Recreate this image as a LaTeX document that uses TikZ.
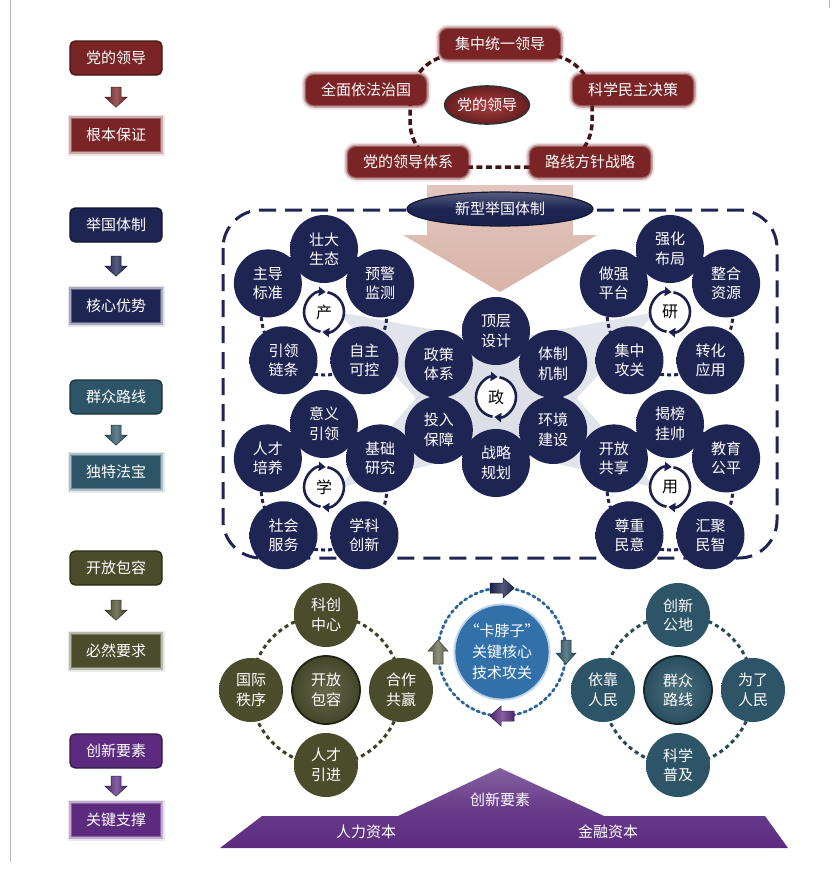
\documentclass[tikz,border=0pt]{standalone}
\usepackage{fontspec}
\setmainfont{Noto Sans CJK SC}
\usetikzlibrary{arrows.meta,shapes.geometric,calc}
\definecolor{cred}{HTML}{7A2426}
\definecolor{cnavy}{HTML}{1E2553}
\definecolor{cteal}{HTML}{2D5567}
\definecolor{colive}{HTML}{4A4C2C}
\definecolor{cpurple}{HTML}{5C2B80}
\definecolor{cblue}{HTML}{3270AA}
\definecolor{cpink}{HTML}{D6AFA3}
\definecolor{cwedge}{HTML}{DCDFE8}
\pgfdeclareradialshading{navyblur}{\pgfpoint{0bp}{0bp}}{rgb(0bp)=(0.118,0.145,0.325);rgb(37bp)=(0.118,0.145,0.325);rgb(50bp)=(1,1,1)}
\pgfdeclareradialshading{oliveblur}{\pgfpoint{0bp}{0bp}}{rgb(0bp)=(0.29,0.298,0.172);rgb(37bp)=(0.29,0.298,0.172);rgb(50bp)=(1,1,1)}
\pgfdeclareradialshading{tealblur}{\pgfpoint{0bp}{0bp}}{rgb(0bp)=(0.176,0.333,0.404);rgb(37bp)=(0.176,0.333,0.404);rgb(50bp)=(1,1,1)}
\tikzset{
  lbox/.style={rounded corners=5pt, fill=#1, draw=#1!55!black, line width=1.2pt,
    minimum width=92pt, minimum height=34pt, text=white,
    font=\fontsize{15}{16}\selectfont, inner sep=0pt},
  sbox/.style={fill=#1, preaction={draw=#1, draw opacity=0.12, line width=9pt},
    preaction={draw=#1, draw opacity=0.3, line width=5.5pt},
    preaction={draw=#1, draw opacity=0.55, line width=2.5pt},
    minimum width=88pt, minimum height=32pt, text=white,
    font=\fontsize{15}{16}\selectfont, inner sep=0pt},
  rbox/.style={sbox=cred, rounded corners=8pt, minimum width=120pt, minimum height=30pt},
  sat/.style={circle, inner sep=0pt, minimum size=68pt, shade, shading=#1, text=white,
    font=\fontsize{15}{19.5}\selectfont, align=center},
  hub/.style={circle, fill=white, minimum size=40pt, inner sep=0pt,
    font=\fontsize{16}{16}\selectfont},
  hubarr/.style={draw=cnavy!90!black, line width=2.6pt, -{Triangle[length=7pt,width=9pt]}},
  dotring/.style={draw=cnavy, line width=3pt, dash pattern=on 4pt off 3pt},
  bigc/.style={circle, minimum size=68pt, inner sep=0pt, shade, inner color=#1!85!white,
    outer color=#1!92!black, draw=#1!45!black, line width=1.8pt, text=white,
    font=\fontsize{15}{19.5}\selectfont, align=center},
  downarr/.pic={\path[pic actions] (-5,10) -- (5,10) -- (5,0) -- (11,0) -- (0,-10) -- (-11,0) -- (-5,0) -- cycle;},
  blockarr/.pic={\path[pic actions] (-12,-5) -- (1,-5) -- (1,-10) -- (12,0) -- (1,10) -- (1,5) -- (-12,5) -- cycle;},
  arrfill/.style={shade, left color=#1!90!black, right color=#1!90!black, middle color=#1!75!white, draw=#1!60!black, line width=0.5pt}
}
\newcommand\pgroup[7]{%
  \draw[dotring] (#1) circle[radius=63];
  \node[sat=navyblur] (#1a) at ([shift={(90:63)}]#1) {#3};
  \node[sat=navyblur] (#1b) at ([shift={(153:63)}]#1) {#4};
  \node[sat=navyblur] (#1c) at ([shift={(27:63)}]#1) {#5};
  \node[sat=navyblur] (#1d) at ([shift={(230:63)}]#1) {#6};
  \node[sat=navyblur] (#1e) at ([shift={(310:63)}]#1) {#7};
  \node[hub] (#1h) at (#1) {#2};
  \draw[hubarr] (#1) ++(260:20) arc[start angle=260,end angle=85,radius=20];
  \draw[hubarr] (#1) ++(80:20) arc[start angle=80,end angle=-95,radius=20];
}
\newcommand\cgroup[8]{%
  \draw[draw=#3!85!black, line width=3pt, dash pattern=on 4pt off 3.5pt] (#1) circle[radius=75];
  \node[sat=#2, minimum size=64pt] (#1a) at ([shift={(90:75)}]#1) {#5};
  \node[sat=#2, minimum size=64pt] (#1b) at ([shift={(180:75)}]#1) {#6};
  \node[sat=#2, minimum size=64pt] (#1c) at ([shift={(0:75)}]#1) {#7};
  \node[sat=#2, minimum size=64pt] (#1d) at ([shift={(270:75)}]#1) {#8};
  \node[bigc=#3] (#1h) at (#1) {#4};
}
\begin{document}
\begin{tikzpicture}[x=1pt,y=1pt]
\useasboundingbox (0,0) rectangle (837,-871);
\draw[gray!55, line width=0.8pt] (10,0) -- (10,-862);
\draw[gray!55, line width=0.8pt] (829,0) -- (829,-8);

% ---------- legend ----------
\node[lbox=cred] (L1) at (116,-58) {党的领导};
\node[sbox=cred] (L2) at (116,-135) {根本保证};
\node[lbox=cnavy] (L3) at (116,-225) {举国体制};
\node[sbox=cnavy] (L4) at (116,-306) {核心优势};
\node[lbox=cteal] (L5) at (116,-397) {群众路线};
\node[sbox=cteal] (L6) at (116,-472) {独特法宝};
\node[lbox=colive] (L7) at (116,-568) {开放包容};
\node[sbox=colive] (L8) at (116,-651) {必然要求};
\node[lbox=cpurple] (L9) at (116,-751) {创新要素};
\node[sbox=cpurple] (L10) at (116,-820) {关键支撑};
\pic[arrfill=cred] at ($(L1.south)!0.5!(L2.north)$) {downarr};
\pic[arrfill=cnavy] at ($(L3.south)!0.5!(L4.north)$) {downarr};
\pic[arrfill=cteal] at ($(L5.south)!0.5!(L6.north)$) {downarr};
\pic[arrfill=colive] at ($(L7.south)!0.5!(L8.north)$) {downarr};
\pic[arrfill=cpurple] at ($(L9.south)!0.5!(L10.north)$) {downarr};

% ---------- top: party leadership ----------
\draw[draw=cred!55!black, line width=3.5pt, dash pattern=on 6pt off 3.5pt, rounded corners=45pt]
  (410,-55) rectangle (592,-167);
\node[rbox] (T1) at (500,-44) {集中统一领导};
\node[rbox] (T2) at (366,-90) {全面依法治国};
\node[rbox] (T3) at (633,-90) {科学民主决策};
\node[rbox] (T4) at (408,-162) {党的领导体系};
\node[rbox] (T5) at (590,-162) {路线方针战略};
\node[ellipse, minimum width=78pt, minimum height=38pt, inner sep=0pt, shade,
  inner color=cred!75!red!85!white, outer color=cred!85!black, draw=black!80, line width=1.6pt,
  text=white, font=\fontsize{15}{16}\selectfont] (T0) at (487,-105) {党的领导};

% ---------- big arrow ----------
\shade[top color=cpink!75!white, bottom color=cpink, opacity=0.95]
  (427,-185) -- (573,-185) -- (573,-235) -- (597,-235) -- (500,-292) -- (403,-235) -- (427,-235) -- cycle;

% ---------- middle frame ----------
\draw[draw=cnavy, line width=3pt, dash pattern=on 17pt off 9pt, rounded corners=38pt]
  (223,-210) rectangle (777,-558);
\node[ellipse, minimum width=186pt, minimum height=34pt, inner sep=0pt,
  top color=cnavy!75!white, bottom color=cnavy!90!black, middle color=cnavy,
  draw=cnavy!60!black, line width=1.2pt, text=white, font=\fontsize{15}{16}\selectfont]
  (N0) at (500,-209) {新型举国体制};

% wedges
\fill[cwedge] (496,-397) circle[radius=62];
\fill[cwedge, opacity=0.85] (338,-312) -- (462,-335) -- (440,-425) -- cycle;
\fill[cwedge, opacity=0.85] (656,-312) -- (530,-335) -- (552,-425) -- cycle;
\fill[cwedge, opacity=0.85] (338,-488) -- (440,-370) -- (470,-455) -- cycle;
\fill[cwedge, opacity=0.85] (656,-488) -- (552,-370) -- (522,-455) -- cycle;

\coordinate (cP) at (324,-312);
\coordinate (cY) at (670,-312);
\coordinate (cX) at (324,-487);
\coordinate (cU) at (670,-487);
\coordinate (cZ) at (496,-397);

\pgroup{cP}{产}{壮大\\生态}{主导\\标准}{预警\\监测}{引领\\链条}{自主\\可控}
\pgroup{cY}{研}{强化\\布局}{做强\\平台}{整合\\资源}{集中\\攻关}{转化\\应用}
\pgroup{cX}{学}{意义\\引领}{人才\\培养}{基础\\研究}{社会\\服务}{学科\\创新}
\pgroup{cU}{用}{揭榜\\挂帅}{开放\\共享}{教育\\公平}{尊重\\民意}{汇聚\\民智}

\draw[dotring] (cZ) circle[radius=66];
\node[sat=navyblur] (cZa) at ([shift={(90:66)}]cZ) {顶层\\设计};
\node[sat=navyblur] (cZb) at ([shift={(150:66)}]cZ) {政策\\体系};
\node[sat=navyblur] (cZc) at ([shift={(30:66)}]cZ) {体制\\机制};
\node[sat=navyblur] (cZd) at ([shift={(210:66)}]cZ) {投入\\保障};
\node[sat=navyblur] (cZe) at ([shift={(330:66)}]cZ) {环境\\建设};
\node[sat=navyblur] (cZf) at ([shift={(270:66)}]cZ) {战略\\规划};
\node[hub] (cZh) at (cZ) {政};
\draw[hubarr] (cZ) ++(260:20) arc[start angle=260,end angle=85,radius=20];
\draw[hubarr] (cZ) ++(80:20) arc[start angle=80,end angle=-95,radius=20];

% ---------- bottom ----------
\coordinate (cO) at (326,-690);
\coordinate (cT) at (678,-690);
\coordinate (cK) at (502,-652);
\cgroup{cO}{oliveblur}{colive}{开放\\包容}{科创\\中心}{国际\\秩序}{合作\\共赢}{人才\\引进}
\cgroup{cT}{tealblur}{cteal}{群众\\路线}{创新\\公地}{依靠\\人民}{为了\\人民}{科学\\普及}

\draw[draw=cblue!90!black, line width=2.8pt, dash pattern=on 2.5pt off 3.5pt, line cap=round]
  (cK) circle[radius=64];
\node[circle, minimum size=82pt, inner sep=0pt, fill=cblue, text=white,
  font=\fontsize{15}{21}\selectfont, align=center,
  preaction={draw=cblue, draw opacity=0.3, line width=4pt}] (K0) at (cK) {“卡脖子”\\关键核心\\技术攻关};
\pic[arrfill=cnavy, rotate=0] at ([shift={(90:64)}]cK) {blockarr};
\pic[arrfill=cteal, rotate=-90] at ([shift={(0:64)}]cK) {blockarr};
\pic[arrfill=cpurple, rotate=180] at ([shift={(270:64)}]cK) {blockarr};
\pic[arrfill=colive!85!white, rotate=90] at ([shift={(180:64)}]cK) {blockarr};

% purple base
\shade[top color=cpurple!75!white, bottom color=cpurple, middle color=cpurple!92!white]
  (220,-848) -- (262,-816) -- (398,-816) -- (500,-768) -- (604,-816) -- (765,-816) -- (788,-848) -- cycle;
\node[text=white, font=\fontsize{15}{16}\selectfont] (B0) at (500,-800) {创新要素};
\node[text=white, font=\fontsize{15}{16}\selectfont] (B1) at (366,-832) {人力资本};
\node[text=white, font=\fontsize{15}{16}\selectfont] (B2) at (608,-832) {金融资本};
\end{tikzpicture}
\end{document}
